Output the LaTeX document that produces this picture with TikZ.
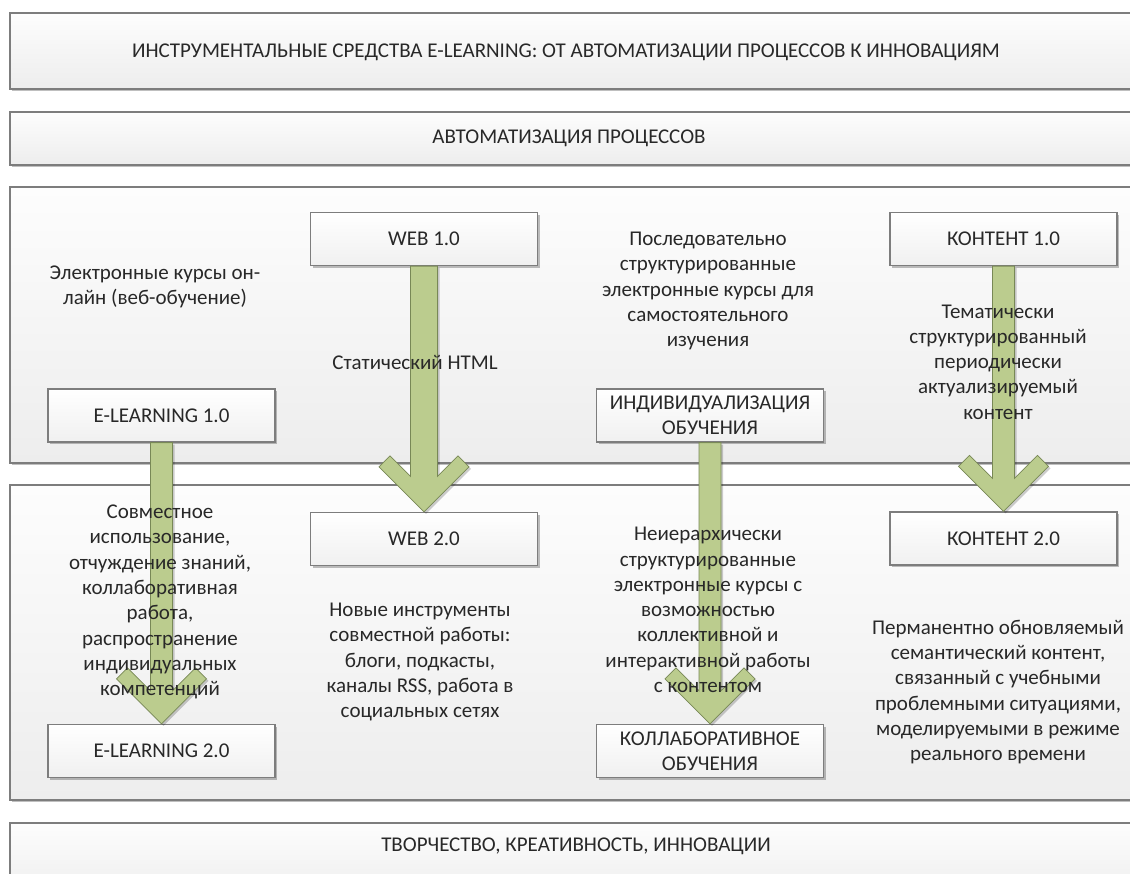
\documentclass[tikz,border=0pt]{standalone}
\usepackage{fontspec}
\setmainfont{Carlito}
\usetikzlibrary{calc,shadows}

\definecolor{edge}{RGB}{125,125,125}
\definecolor{ink}{RGB}{40,40,40}
\definecolor{arrowfill}{RGB}{187,204,142}
\definecolor{arrowedge}{RGB}{120,136,86}
\definecolor{paneltop}{RGB}{253,253,253}
\definecolor{panelbottom}{RGB}{237,237,237}
\definecolor{boxbottom}{RGB}{240,240,240}

\tikzset{
  softshadow/.style={drop shadow={shadow xshift=2pt,shadow yshift=-2pt,opacity=0.25,fill=black}},
  panel/.style={draw=edge, line width=1.3pt, top color=paneltop, bottom color=panelbottom, softshadow},
  stagebox/.style={draw=edge, line width=1.2pt, top color=white, bottom color=boxbottom,
    softshadow, minimum width=227pt, minimum height=53pt, inner sep=0pt, align=center, text=ink},
  note/.style={align=center, text=ink, inner sep=0pt},
  fatarrow/.style={fill=arrowfill, draw=arrowedge, line width=0.8pt, line join=miter,
    drop shadow={shadow xshift=2pt,shadow yshift=-2pt,opacity=0.2,fill=black}},
}

% thick block arrow from the bottom of one stage box to the top of the next;
% #3 is half the shaft width
\newcommand\stagearrow[3]{%
  \path[fatarrow] let \p1=(#1.south), \p2=(#2.north) in
    ({\x1-#3pt},\y1) -- ({\x1-#3pt},{\y2+#3pt+22pt}) -- ({\x2-34pt},{\y2+56pt})
    -- ({\x2-45pt},{\y2+45pt}) -- (\x2,\y2) -- ({\x2+45pt},{\y2+45pt})
    -- ({\x2+34pt},{\y2+56pt}) -- ({\x2+#3pt},{\y2+#3pt+22pt}) -- ({\x1+#3pt},\y1) -- cycle;}

\begin{document}
\begin{tikzpicture}[x=1pt,y=-1pt,font=\fontsize{21pt}{25.3pt}\selectfont]
\useasboundingbox (0,0) rectangle (1130,873);
\clip (0,0) rectangle (1130,873);
\fill[white] (0,0) rectangle (1130,873);

% horizontal bands
\path[panel] (10,13) rectangle (1134,89);
\path[panel] (10,112) rectangle (1134,165);
\path[panel] (10,187) rectangle (1134,463);
\path[panel] (10,485) rectangle (1134,800);
\path[panel] (10,823) rectangle (1134,900);

\node[note] (title) at (566,52) {ИНСТРУМЕНТАЛЬНЫЕ СРЕДСТВА E-LEARNING: ОТ АВТОМАТИЗАЦИИ ПРОЦЕССОВ К ИННОВАЦИЯМ};
\node[note] (auto) at (569,138) {АВТОМАТИЗАЦИЯ ПРОЦЕССОВ};
\node[note] (creat) at (576,846) {ТВОРЧЕСТВО, КРЕАТИВНОСТЬ, ИННОВАЦИИ};

% stage boxes
\node[stagebox] (el1) at (161.5,415.5) {E-LEARNING 1.0};
\node[stagebox] (web1) at (424,239) {WEB 1.0};
\node[stagebox] (ind) at (710,415.5) {ИНДИВИДУАЛИЗАЦИЯ\\ОБУЧЕНИЯ};
\node[stagebox] (con1) at (1003.5,239) {КОНТЕНТ 1.0};
\node[stagebox] (el2) at (161.5,751) {E-LEARNING 2.0};
\node[stagebox] (web2) at (424,539) {WEB 2.0};
\node[stagebox] (col) at (710,751) {КОЛЛАБОРАТИВНОЕ\\ОБУЧЕНИЯ};
\node[stagebox] (con2) at (1003.5,538.5) {КОНТЕНТ 2.0};

% transitions
\stagearrow{el1}{el2}{11}
\stagearrow{web1}{web2}{13.5}
\stagearrow{ind}{col}{11}
\stagearrow{con1}{con2}{11}

% descriptions
\node[note] (n1) at (155,287) {Электронные курсы он-\\лайн (веб-обучение)};
\node[note] (n2) at (415,362) {Статический HTML};
\node[note] (n3) at (708,291) {Последовательно\\структурированные\\электронные курсы для\\самостоятельного\\изучения};
\node[note] (n4) at (998,362) {Тематически\\структурированный\\периодически\\актуализируемый\\контент};
\node[note] (n5) at (160,602) {Совместное\\использование,\\отчуждение знаний,\\коллаборативная\\работа,\\распространение\\индивидуальных\\компетенций};
\node[note] (n6) at (420,662) {Новые инструменты\\совместной работы:\\блоги, подкасты,\\каналы RSS, работа в\\социальных сетях};
\node[note] (n7) at (708,610) {Неиерархически\\структурированные\\электронные курсы с\\возможностью\\коллективной и\\интерактивной работы\\с контентом};
\node[note] (n8) at (998,692) {Перманентно обновляемый\\семантический контент,\\связанный с учебными\\проблемными ситуациями,\\моделируемыми в режиме\\реального времени};
\end{tikzpicture}
\end{document}
